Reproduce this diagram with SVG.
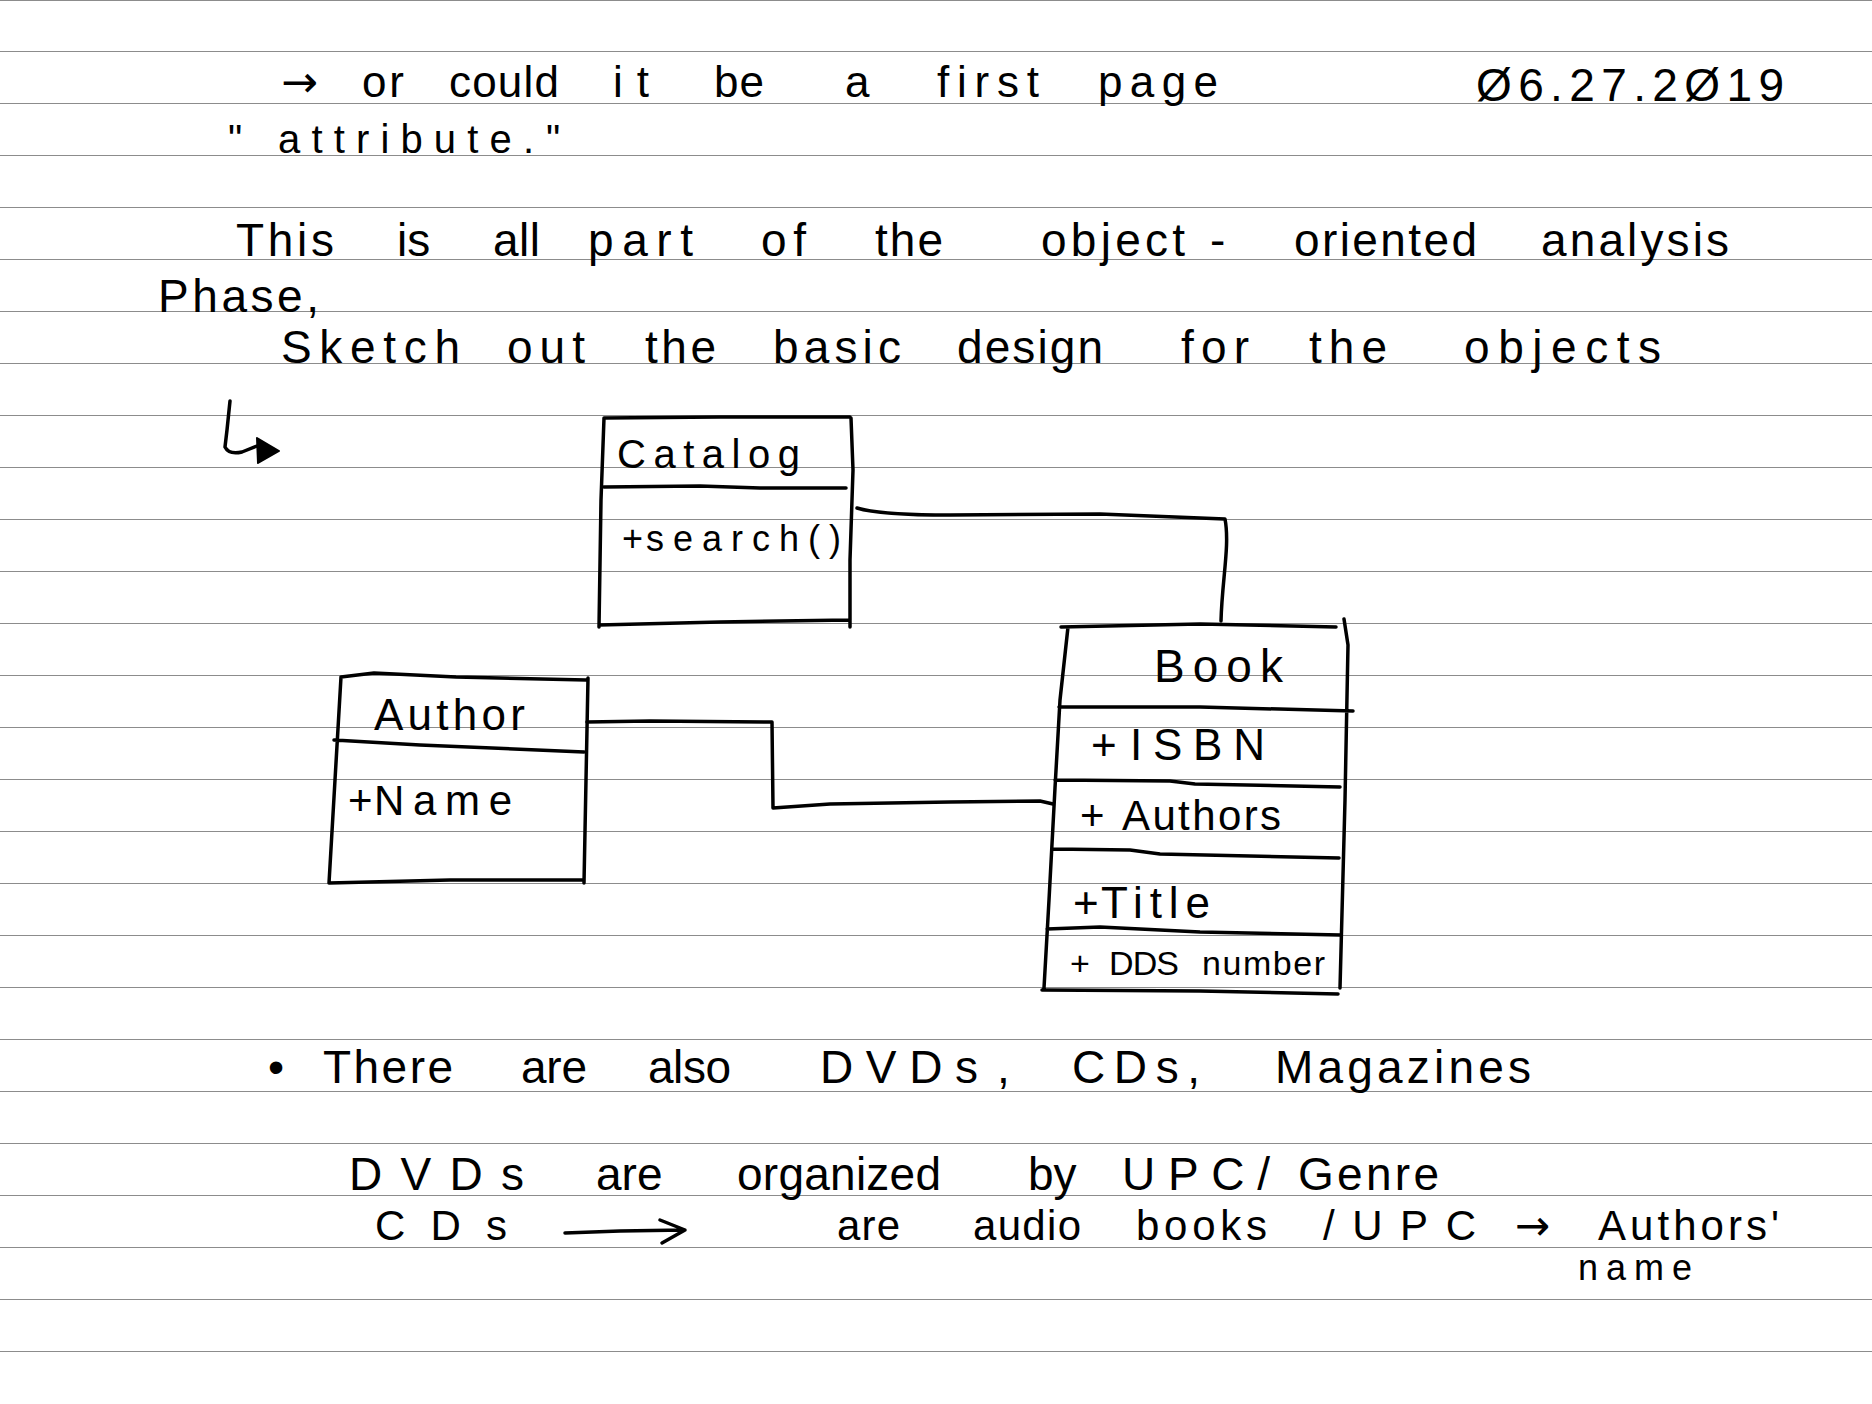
<svg xmlns="http://www.w3.org/2000/svg" width="1872" height="1404" viewBox="0 0 1872 1404">
<style>
.rule{stroke:#8c8c8c;stroke-width:1}
.ink{fill:none;stroke:#000;stroke-width:3.5;stroke-linecap:round;stroke-linejoin:round}
.t{font-family:"Liberation Sans",Arial,sans-serif;fill:#000}
.arr{font-family:"DejaVu Sans",sans-serif}
</style>
<rect x="0" y="0" width="1872" height="1404" fill="#fff"/>
<g id="ruled-lines">
<line class="rule" x1="0" y1="0.5" x2="1872" y2="0.5"/>
<line class="rule" x1="0" y1="51.5" x2="1872" y2="51.5"/>
<line class="rule" x1="0" y1="103.5" x2="1872" y2="103.5"/>
<line class="rule" x1="0" y1="155.5" x2="1872" y2="155.5"/>
<line class="rule" x1="0" y1="207.5" x2="1872" y2="207.5"/>
<line class="rule" x1="0" y1="259.5" x2="1872" y2="259.5"/>
<line class="rule" x1="0" y1="311.5" x2="1872" y2="311.5"/>
<line class="rule" x1="0" y1="363.5" x2="1872" y2="363.5"/>
<line class="rule" x1="0" y1="415.5" x2="1872" y2="415.5"/>
<line class="rule" x1="0" y1="467.5" x2="1872" y2="467.5"/>
<line class="rule" x1="0" y1="519.5" x2="1872" y2="519.5"/>
<line class="rule" x1="0" y1="571.5" x2="1872" y2="571.5"/>
<line class="rule" x1="0" y1="623.5" x2="1872" y2="623.5"/>
<line class="rule" x1="0" y1="675.5" x2="1872" y2="675.5"/>
<line class="rule" x1="0" y1="727.5" x2="1872" y2="727.5"/>
<line class="rule" x1="0" y1="779.5" x2="1872" y2="779.5"/>
<line class="rule" x1="0" y1="831.5" x2="1872" y2="831.5"/>
<line class="rule" x1="0" y1="883.5" x2="1872" y2="883.5"/>
<line class="rule" x1="0" y1="935.5" x2="1872" y2="935.5"/>
<line class="rule" x1="0" y1="987.5" x2="1872" y2="987.5"/>
<line class="rule" x1="0" y1="1039.5" x2="1872" y2="1039.5"/>
<line class="rule" x1="0" y1="1091.5" x2="1872" y2="1091.5"/>
<line class="rule" x1="0" y1="1143.5" x2="1872" y2="1143.5"/>
<line class="rule" x1="0" y1="1195.5" x2="1872" y2="1195.5"/>
<line class="rule" x1="0" y1="1247.5" x2="1872" y2="1247.5"/>
<line class="rule" x1="0" y1="1299.5" x2="1872" y2="1299.5"/>
<line class="rule" x1="0" y1="1351.5" x2="1872" y2="1351.5"/>
</g>
<g id="notes-top">
<text class="t" font-size="44" y="97"><tspan class="arr" x="281" textLength="35">→</tspan> <tspan x="362" textLength="42">or</tspan> <tspan x="449" textLength="110">could</tspan> <tspan x="613" textLength="36">it</tspan> <tspan x="714" textLength="50">be</tspan> <tspan x="845" textLength="27">a</tspan> <tspan x="937" textLength="102">first</tspan> <tspan x="1098" textLength="120">page</tspan></text>
<text class="t" font-size="46" y="101" x="1476" textLength="308">Ø6.27.2Ø19</text>
<text class="t" font-size="40" y="153"><tspan x="228">"</tspan> <tspan x="278" textLength="256">attribute.</tspan><tspan x="546">"</tspan></text>
<text class="t" font-size="46" y="256"><tspan x="236" textLength="98">This</tspan> <tspan x="397">is</tspan> <tspan x="493" textLength="47">all</tspan> <tspan x="588" textLength="105">part</tspan> <tspan x="761" textLength="45">of</tspan> <tspan x="875" textLength="68">the</tspan> <tspan x="1041" textLength="144">object</tspan> <tspan x="1210" textLength="16">-</tspan> <tspan x="1294" textLength="183">oriented</tspan> <tspan x="1541" textLength="188">analysis</tspan></text>
<text class="t" font-size="46" y="312" x="158" textLength="161">Phase,</text>
<text class="t" font-size="46" y="363"><tspan x="281" textLength="179">Sketch</tspan> <tspan x="507" textLength="78">out</tspan> <tspan x="645" textLength="71">the</tspan> <tspan x="773" textLength="128">basic</tspan> <tspan x="957" textLength="146">design</tspan> <tspan x="1181" textLength="68">for</tspan> <tspan x="1309" textLength="78">the</tspan> <tspan x="1464" textLength="197">objects</tspan></text>
<path class="ink" d="M230,401 L227,430 L225,447 Q229,455 242,452 L257,446"/>
<polygon points="257,438 279,451 258,463" fill="#000" stroke="#000" stroke-width="2" stroke-linejoin="round"/>
</g>
<g id="connectors">
<path class="ink" d="M857,508 C870,512 900,515 950,515 L1100,514 L1225,519 C1230,545 1222,580 1221,621"/>
<path class="ink" d="M587,722 L650,721 L772,722 L773,808 L830,804 L950,802 L1040,801 L1053,804"/>
</g>
<g id="catalog">
<path class="ink" d="M604,418 L720,417 L850,417 M851,418 L853,470 L850,560 L850,627 M599,625 L720,622 L850,620 M604,418 L601,500 L599,627 M604,487 L700,486 L760,488 L846,488"/>
<text class="t" font-size="40" x="617" y="468" textLength="183">Catalog</text>
<text class="t" font-size="36" y="551"><tspan x="622">+</tspan><tspan x="646" textLength="195">search()</tspan></text>
</g>
<g id="book">
<path class="ink" d="M1061,627 L1200,624 L1336,627 M1344,619 L1348,645 L1345,800 L1340,988 M1042,990 L1200,991 L1338,994 M1068,627 L1060,700 L1055,788 L1049,900 L1044,988 M1059,707 L1200,707 L1353,711 M1055,780 L1170,781 L1195,784 L1340,787 M1053,849 L1130,850 L1160,854 L1339,858 M1047,929 L1100,927 L1200,932 L1340,935"/>
<text class="t" font-size="46" x="1154" y="682" textLength="129">Book</text>
<text class="t" font-size="44" y="760"><tspan x="1091">+</tspan> <tspan x="1130" textLength="135">ISBN</tspan></text>
<text class="t" font-size="42" y="830"><tspan x="1080">+</tspan> <tspan x="1122" textLength="159">Authors</tspan></text>
<text class="t" font-size="44" y="918"><tspan x="1073">+</tspan><tspan x="1101" textLength="109">Title</tspan></text>
<text class="t" font-size="34" y="975"><tspan x="1070">+</tspan> <tspan x="1109" textLength="70">DDS</tspan> <tspan x="1202" textLength="123">number</tspan></text>
</g>
<g id="author">
<path class="ink" d="M341,677 L374,673 L456,677 L586,680 M588,678 L586,780 L584,883 M329,883 L450,880 L584,880 M341,677 L335,780 L329,883 M334,740 L420,745 L584,752"/>
<text class="t" font-size="44" x="374" y="730" textLength="151">Author</text>
<text class="t" font-size="42" y="815"><tspan x="348">+</tspan><tspan x="374" textLength="138">Name</tspan></text>
</g>
<g id="notes-bottom">
<text class="t" font-size="46" y="1083"><tspan x="268">•</tspan> <tspan x="323" textLength="130">There</tspan> <tspan x="521" textLength="66">are</tspan> <tspan x="648" textLength="83">also</tspan> <tspan x="820" textLength="158">DVDs</tspan><tspan x="997">,</tspan> <tspan x="1072" textLength="128">CDs,</tspan> <tspan x="1275" textLength="256">Magazines</tspan></text>
<text class="t" font-size="46" y="1190"><tspan x="349" textLength="175">DVDs</tspan> <tspan x="596">are</tspan> <tspan x="737" textLength="204">organized</tspan> <tspan x="1028">by</tspan> <tspan x="1122" textLength="148">UPC/</tspan> <tspan x="1298" textLength="141">Genre</tspan></text>
<text class="t" font-size="42" y="1240"><tspan x="375" textLength="132">CDs</tspan> <tspan x="837" textLength="63">are</tspan> <tspan x="973" textLength="108">audio</tspan> <tspan x="1136" textLength="131">books</tspan> <tspan x="1323" textLength="153">/UPC</tspan> <tspan class="arr" x="1515" textLength="36">→</tspan> <tspan x="1598" textLength="181">Authors'</tspan></text>
<text class="t" font-size="36" x="1578" y="1280" textLength="114">name</text>
<path class="ink" d="M565,1233 L620,1231 L685,1230 M660,1220 L685,1230 L662,1243"/>
</g>
</svg>
